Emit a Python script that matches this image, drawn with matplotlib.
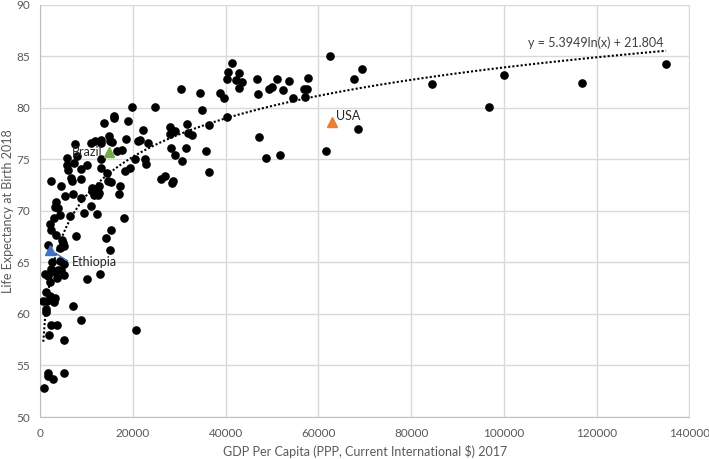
import numpy as np
import matplotlib
matplotlib.use("Agg")
import matplotlib.pyplot as plt

# GDP per capita (PPP) 2017 and life expectancy 2018
gdp = [19900, 24800, 35000, 40400, 16000, 16000, 13850, 18900, 31700, 28000,
       29200, 28100, 22100, 31800, 32700, 36400, 7600, 11050, 11800, 13150,
       13150, 14950, 15100, 15600, 18600, 21200, 21600, 23250, 28150, 31500,
       35750, 16500, 17600, 5800, 7900, 7400, 10050, 8750, 13150, 13150,
       20450, 22600, 22750, 29150, 30650, 5750, 5950, 14450, 18300, 19300,
       2450, 6600, 6900, 8900, 14600, 15350, 17250, 26150, 26850, 28700,
       28550, 36400, 4600, 11150, 11250, 12800, 11800, 12650, 12400, 11550,
       5300, 7050, 8900, 17000, 3400, 3250, 3950, 3100, 4400, 6450,
       10900, 9550, 12200, 18100, 2150, 30300,
       2300, 3450, 7700, 4650, 5000, 5250, 4300, 1650, 14150, 15200,
       15100, 2650, 4300, 5250, 1100, 1650, 2300, 2850, 3300, 3900,
       4450, 5250, 2150, 3600, 10200, 12900, 1200, 2150, 1600, 720,
       2700, 3250, 3100, 1200, 1300, 7100, 8850, 2300, 3750, 2000,
       5150, 20800, 1800, 1650, 2850, 5250, 930,
       34500, 38800, 39700, 41400, 40500, 42800, 40300, 42150, 43550, 42800,
       46700, 47000, 47300, 48750, 51700, 49400, 50050, 51050, 52300, 53700,
       54500, 56800, 57450, 57150, 57750, 62550, 67600, 69400, 68500, 61750,
       84450, 100050, 96750, 116800, 134950]
life = [80.1, 80.1, 79.8, 79.1, 79.2, 79.0, 78.5, 78.7, 78.4, 78.1,
        77.7, 77.5, 77.8, 77.6, 77.4, 78.3, 76.5, 76.6, 76.8, 76.9,
        76.6, 77.3, 76.8, 76.7, 77.0, 76.8, 76.9, 76.6, 76.1, 76.1,
        75.8, 75.8, 75.9, 75.1, 75.3, 74.6, 74.4, 74.1, 75.0, 74.2,
        75.0, 75.0, 74.5, 75.4, 74.8, 74.4, 74.0, 73.7, 73.9, 74.2,
        72.9, 73.2, 72.9, 73.1, 72.9, 72.8, 72.4, 73.1, 73.4, 72.9,
        72.7, 73.8, 72.4, 72.2, 71.9, 72.4, 71.8, 71.7, 71.5, 71.5,
        71.4, 71.6, 71.2, 71.6, 70.9, 70.4, 70.3, 69.3, 69.6, 69.5,
        70.5, 69.8, 69.7, 69.3, 68.7, 81.8,
        68.1, 67.7, 67.6, 67.2, 66.9, 66.6, 66.4, 66.7, 67.4, 68.1,
        66.2, 65.0, 65.1, 64.8, 63.9, 63.7, 64.4, 64.2, 64.1, 64.3,
        64.3, 63.8, 63.1, 63.5, 63.4, 63.9, 62.1, 61.7, 61.3, 61.3,
        61.4, 61.5, 61.2, 60.5, 60.2, 60.8, 59.4, 58.9, 58.9, 58.0,
        57.5, 58.4, 54.3, 54.0, 53.7, 54.3, 52.8,
        81.4, 81.4, 80.9, 84.3, 83.5, 83.4, 82.8, 82.7, 82.5, 81.9,
        82.8, 81.3, 77.2, 75.1, 75.4, 81.8, 82.0, 82.8, 81.7, 82.6,
        80.9, 81.8, 81.8, 81.0, 82.9, 85.0, 82.8, 83.8, 77.9, 75.8,
        82.3, 83.2, 80.1, 82.4, 84.2]

highlight_names = ["Brazil", "Ethiopia", "USA"]
highlight_gdp = [14950, 2150, 62850]
highlight_life = [75.7, 66.2, 78.6]
highlight_colors = ["#70AD47", "#4472C4", "#ED7D31"]

# trendline coefficients shown on the chart
coef_a = 5.3949
coef_b = 21.804

plt.rcParams['font.family'] = ['Lato', 'DejaVu Sans']
fig = plt.figure(figsize=(7.09, 4.59), dpi=100)
ax = fig.add_axes([40/709, 1-417/459, 649.5/709, 412.3/459])

ax.set_xlim(0, 140000)
ax.set_ylim(50, 90)
ax.set_xticks(np.arange(0, 140001, 20000))
ax.set_yticks(np.arange(50, 91, 5))
ax.grid(True, color='#d9d9d9', linewidth=1)
ax.set_axisbelow(True)
for s in ['top', 'right']:
    ax.spines[s].set_visible(False)
for s in ['left', 'bottom']:
    ax.spines[s].set_color('#bfbfbf')
ax.tick_params(length=0, labelsize=8.5, labelcolor='#595959')
ax.tick_params(axis='x', pad=8)
ax.tick_params(axis='y', pad=7)

ax.plot(gdp, life, 'o', color='black', markersize=5.2, zorder=3)

xs = np.linspace(min(gdp), max(gdp), 400)
ax.plot(xs, coef_a*np.log(xs) + coef_b, color='black', linestyle=(0, (1, 1)),
        linewidth=1.5, zorder=4)
ax.text(119800, 86.3, "y = 5.3949ln(x) + 21.804", ha='center',
        va='center', fontsize=9, color='#404040')

# Ethiopia leader line
ax.plot([highlight_gdp[1], 5900], [highlight_life[1], 65.17], color='#4472C4',
        linewidth=1, zorder=4)
for i in range(3):
    ax.plot(highlight_gdp[i], highlight_life[i], '^', color=highlight_colors[i],
            markersize=7, zorder=5)
ax.annotate("Brazil", (highlight_gdp[0], highlight_life[0]), xytext=(-5, 0),
            textcoords='offset points', ha='right', va='center', fontsize=9,
            color='#262626')
ax.text(6830, 65.02, "Ethiopia", ha='left', va='center', fontsize=9,
        color='#262626')
ax.annotate("USA", (highlight_gdp[2], highlight_life[2]), xytext=(3, 0.5),
            textcoords='offset points', ha='left', va='bottom', fontsize=9,
            color='#262626')

ax.set_xlabel("GDP Per Capita (PPP, Current International $) 2017",
              fontsize=9, color='#595959', labelpad=4)
ax.set_ylabel("Life Expectancy at Birth 2018", fontsize=9, color='#595959',
              va='center')
ax.yaxis.set_label_coords(-32/649.5, 0.5)

fig.savefig("out.png", dpi=100)
